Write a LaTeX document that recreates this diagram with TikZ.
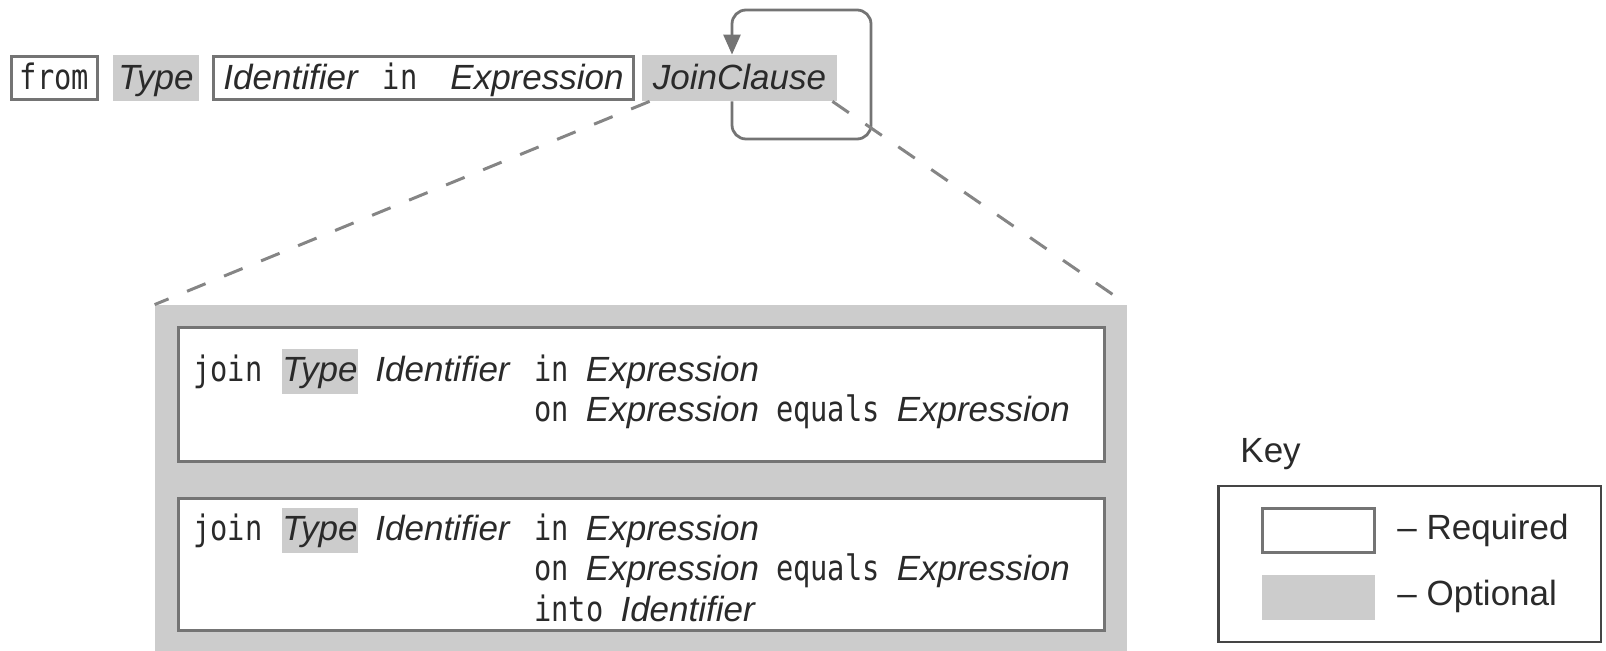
\documentclass[tikz,border=0pt]{standalone}
\usepackage{fontspec}
\setmainfont{Liberation Sans}
\newfontfamily\kwfont[FakeStretch=0.82]{DejaVu Sans Mono}
\usetikzlibrary{arrows.meta,calc}

\definecolor{optgray}{HTML}{CCCCCC}
\definecolor{edgegray}{HTML}{747474}
\definecolor{ink}{HTML}{2A2A2A}
\definecolor{dashgray}{HTML}{858585}
\definecolor{keyedge}{HTML}{454545}

% keywords in a narrow monospace, non-terminals in sans italic
\newcommand\kw[1]{{\kwfont #1}}
\newcommand\nt[1]{\textit{#1}}
\newcommand\gap{\hspace{8.5pt}}

\tikzset{
  every node/.style={font=\fontsize{17.5pt}{21pt}\selectfont, text=ink, inner sep=0pt},
  reqbox/.style={draw=edgegray, line width=1.5pt, fill=white},
  optbox/.style={fill=optgray},
  rowtext/.style={text height=13pt, text depth=1pt},
  hltext/.style={text height=12.25pt, text depth=1.75pt, minimum height=22.5pt},
  loopline/.style={draw=edgegray, line width=1.4pt, rounded corners=7pt,
    -{Triangle[length=10pt,width=8.5pt]}},
  zoomline/.style={draw=dashgray, line width=1.5pt, dash pattern=on 10pt off 10pt},
  line/.style={anchor=base west},
}

\begin{document}
\begin{tikzpicture}[x=0.5pt, y=-0.5pt]
\useasboundingbox (0,0) rectangle (1606,651);

% ---- the from clause ----
\node[reqbox, rowtext, minimum width=43pt, minimum height=21.5pt] (from) at (54.5,78) {\kw{from}};
\node[optbox, rowtext, minimum width=43pt, minimum height=23pt] (type) at (156,78) {\nt{Type}};
\node[reqbox, rowtext, minimum width=210pt, minimum height=21.5pt] (ident) at (423.5,78)
  {\nt{Identifier}\hspace{12pt}\kw{in}\hspace{16.5pt}\nt{Expression}};
\node[optbox, rowtext, minimum width=97.5pt, minimum height=23pt] (join) at (739.5,78) {\nt{JoinClause}};

% repetition loop around JoinClause
\coordinate (loopx) at (732,0);
\draw[loopline] (join.south -| loopx) -- (732,139) -- (871,139) -- (871,10) -- (732,10)
  -- (join.north -| loopx);

% ---- expansion of JoinClause ----
\node[optbox, minimum width=486pt, minimum height=173pt] (big) at (641,478) {};
\draw[zoomline] ($(join.south west)+(8,0)$) -- (big.north west);
\draw[zoomline] ($(join.south east)+(-5,0)$) -- (big.north east);

\node[reqbox, minimum width=463pt, minimum height=67pt] (form1) at (641.5,394.5) {};
\node[reqbox, minimum width=463pt, minimum height=66pt] (form2) at (641.5,564.5) {};

% first form
\node[line] (j1) at (193,382) {\kw{join}};
\node[optbox, hltext, minimum width=38pt] (t1) at (320,371.5) {\nt{Type}};
\node[line] (i1) at (375,382) {\nt{Identifier}};
\node[line] (a1) at (534,382) {\kw{in}\gap\nt{Expression}};
\node[line] (b1) at (534,422) {\kw{on}\gap\nt{Expression}\gap\kw{equals}\gap\nt{Expression}};

% second form
\node[line] (j2) at (193,541) {\kw{join}};
\node[optbox, hltext, minimum width=38pt] (t2) at (320,530.5) {\nt{Type}};
\node[line] (i2) at (375,541) {\nt{Identifier}};
\node[line] (a2) at (534,541) {\kw{in}\gap\nt{Expression}};
\node[line] (b2) at (534,581) {\kw{on}\gap\nt{Expression}\gap\kw{equals}\gap\nt{Expression}};
\node[line] (c2) at (534,621) {\kw{into}\gap\nt{Identifier}};

% ---- key ----
\node[line] (keylbl) at (1240,463) {Key};
\node[draw=keyedge, line width=1.25pt, minimum width=191.25pt, minimum height=77.75pt] (key) at (1409.5,564) {};
\node[reqbox, minimum width=56pt, minimum height=22pt] (swreq) at (1318.5,530.5) {};
\node[optbox, minimum width=56.5pt, minimum height=22.5pt] (swopt) at (1318.5,597.5) {};
\node[line] (lreq) at (1397,540) {-- Required};
\node[line] (lopt) at (1397,605) {-- Optional};
\end{tikzpicture}
\end{document}
